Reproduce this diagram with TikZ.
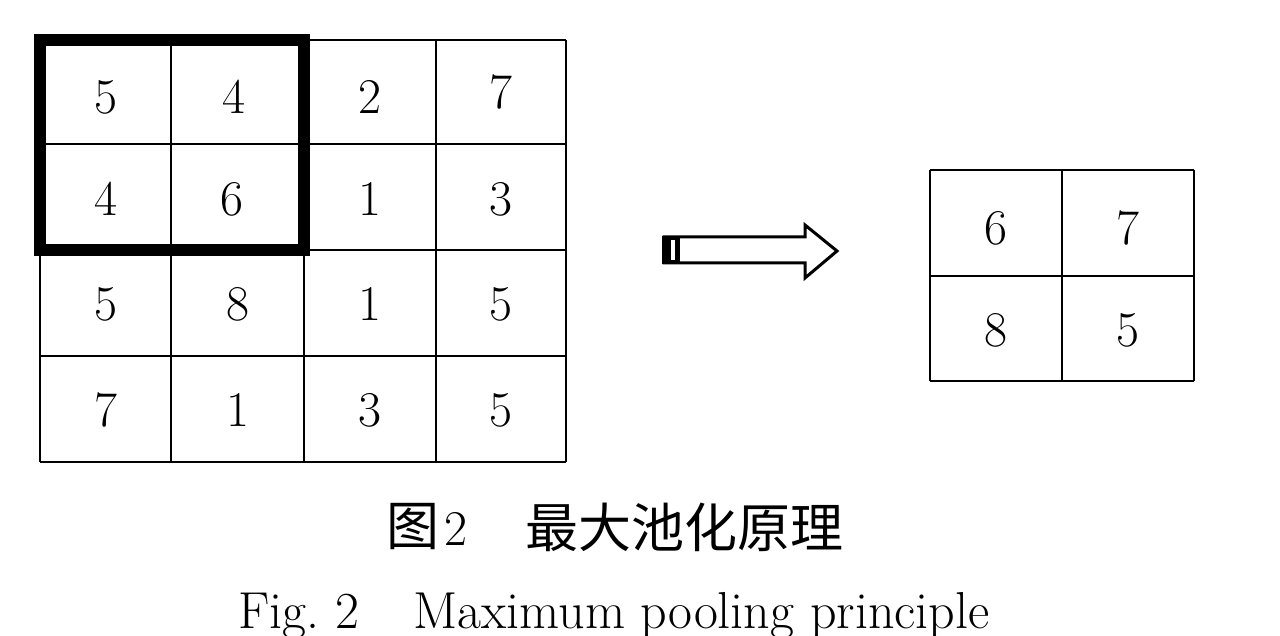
\documentclass[tikz,border=0pt]{standalone}
\usepackage{fontspec}
\newfontfamily\cjk{Noto Sans CJK SC}
\begin{document}
\begin{tikzpicture}[x=0.5pt,y=-0.5pt,
  thin grid/.style={line width=1.4pt,black},
  thick box/.style={line width=6pt,black,line join=miter},
  digit/.style={font=\fontsize{25}{30}\selectfont,inner sep=0pt,anchor=center},
  arrowbody/.style={line width=1.5pt,black,line join=miter}]
\useasboundingbox (0,0) rectangle (1280,636);
% left 4x4 grid
\foreach \x in {40,171,304,436,566} \draw[thin grid] (\x,40) -- (\x,462);
\foreach \y in {40,144,250,356,462} \draw[thin grid] (40,\y) -- (566,\y);
\draw[thick box] (40,40) rectangle (304,250);
% digits
\node[digit] (a11) at (105.5,97) {5};
\node[digit] (a12) at (234,97) {4};
\node[digit] (a13) at (370,97) {2};
\node[digit] (a14) at (501,92) {7};
\node[digit] (a21) at (105.5,199) {4};
\node[digit] (a22) at (232,199) {6};
\node[digit] (a23) at (370,199) {1};
\node[digit] (a24) at (501,199) {3};
\node[digit] (a31) at (105.5,304) {5};
\node[digit] (a32) at (237.5,304) {8};
\node[digit] (a33) at (370,304) {1};
\node[digit] (a34) at (501,304) {5};
\node[digit] (a41) at (105.5,410) {7};
\node[digit] (a42) at (237.5,410) {1};
\node[digit] (a43) at (370,410) {3};
\node[digit] (a44) at (501,410) {5};
% right 2x2 grid
\foreach \x in {930,1062,1194} \draw[thin grid] (\x,170) -- (\x,381);
\foreach \y in {170,276,381} \draw[thin grid] (930,\y) -- (1194,\y);
\node[digit] (b11) at (996,228) {6};
\node[digit] (b12) at (1128,228) {7};
\node[digit] (b21) at (996,330) {8};
\node[digit] (b22) at (1128,330) {5};
% arrow
\draw[arrowbody] (664,237) -- (805,237) -- (805,225) -- (837,251) -- (805,278) -- (805,263) -- (664,263) -- cycle;
\fill[black] (662,236) rectangle (680,264);
\fill[white] (670.5,240) rectangle (675,260);
% captions
\node[anchor=west,inner sep=0pt,font=\cjk\fontsize{26.5}{30}\selectfont] (cap1) at (386,527) {图};
\node[anchor=west,inner sep=0pt,font=\fontsize{25}{30}\selectfont] (cap2) at (444,529) {2};
\node[anchor=west,inner sep=0pt,font=\cjk\fontsize{26.5}{30}\selectfont] (cap3) at (525,527) {最大池化原理};
\node[anchor=base west,inner sep=0pt,font=\fontsize{26}{30}\selectfont] (en1) at (238,628) {Fig.~2};
\node[anchor=base west,inner sep=0pt,font=\fontsize{26}{30}\selectfont] (en2) at (413,628) {Maximum pooling principle};
\end{tikzpicture}
\end{document}
